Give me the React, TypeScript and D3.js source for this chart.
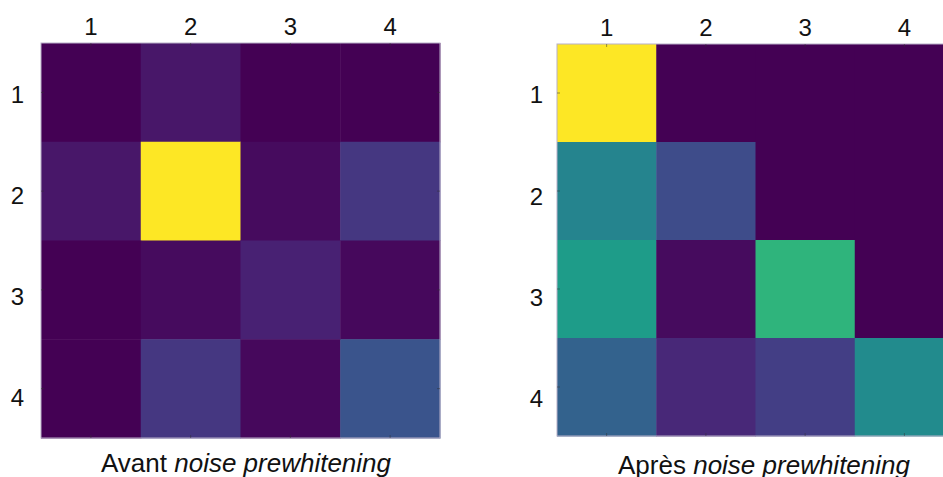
import React from "react";
import * as d3 from "d3";

const rowLabels = ["1", "2", "3", "4"];
const colLabels = ["1", "2", "3", "4"];

// Values on a 0..1 scale (viridis)
const avantValues: number[][] = [
  [0.0, 0.06, 0.0, 0.0],
  [0.06, 1.0, 0.03, 0.16],
  [0.0, 0.03, 0.09, 0.02],
  [0.0, 0.16, 0.02, 0.26],
];

const apresValues: number[][] = [
  [1.0, 0.0, 0.0, 0.0],
  [0.45, 0.23, 0.0, 0.0],
  [0.55, 0.03, 0.65, 0.0],
  [0.31, 0.11, 0.18, 0.48],
];

const captionAvant = ["Avant ", "noise prewhitening"];
const captionApres = ["Après ", "noise prewhitening"];

type PanelProps = {
  values: number[][];
  x0: number;
  x1: number;
  y0: number;
  y1: number;
  labelY0: number;
  labelY1: number;
  rowLabelX: number;
  caption: string[];
  captionX: number;
  captionY: number;
};

const color = d3.scaleSequential(d3.interpolateViridis).domain([0, 1]);

function Panel({ values, x0, x1, y0, y1, labelY0, labelY1, rowLabelX, caption, captionX, captionY }: PanelProps) {
  const x = d3.scaleBand<string>().domain(colLabels).range([x0, x1]);
  const y = d3.scaleBand<string>().domain(rowLabels).range([y0, y1]);
  const yLab = d3.scaleBand<string>().domain(rowLabels).range([labelY0, labelY1]);
  const tickLen = 3;
  return (
    <g>
      {values.map((row, i) =>
        row.map((v, j) => (
          <rect
            key={`${i}-${j}`}
            x={x(colLabels[j])}
            y={y(rowLabels[i])}
            width={x.bandwidth() + 0.5}
            height={y.bandwidth() + 0.5}
            fill={color(v)}
          />
        ))
      )}
      <rect x={x0} y={y0} width={x1 - x0} height={y1 - y0} fill="none" stroke="#b8b0c8" strokeWidth={1} />
      {colLabels.map((c) => {
        const cx = (x(c) as number) + x.bandwidth() / 2;
        return (
          <g key={"c" + c}>
            <line x1={cx} x2={cx} y1={y0} y2={y0 + tickLen} stroke="#333" strokeOpacity={0.5} />
            <line x1={cx} x2={cx} y1={y1} y2={y1 - tickLen} stroke="#333" strokeOpacity={0.5} />
            <text x={cx} y={y0 - 8} textAnchor="middle" fontSize={24} fill="#111">
              {c}
            </text>
          </g>
        );
      })}
      {rowLabels.map((r) => {
        const cy = (y(r) as number) + y.bandwidth() / 2;
        const ly = (yLab(r) as number) + yLab.bandwidth() / 2;
        return (
          <g key={"r" + r}>
            <line x1={x0} x2={x0 + tickLen} y1={cy} y2={cy} stroke="#333" strokeOpacity={0.5} />
            <line x1={x1} x2={x1 - tickLen} y1={cy} y2={cy} stroke="#333" strokeOpacity={0.5} />
            <text x={rowLabelX} y={ly} dy="0.36em" textAnchor="end" fontSize={24} fill="#111">
              {r}
            </text>
          </g>
        );
      })}
      <text x={captionX} y={captionY} textAnchor="middle" fontSize={26} fill="#111">
        {caption[0]}
        <tspan fontStyle="italic">{caption[1]}</tspan>
      </text>
    </g>
  );
}

export default function App() {
  return (
    <svg
      width={943}
      height={477}
      style={{ position: "absolute", left: 0, top: 0, background: "#fff" }}
      fontFamily="'Liberation Sans', Arial, sans-serif"
    >
      <Panel
        values={avantValues}
        x0={41}
        x1={440}
        y0={43}
        y1={438}
        labelY0={43.5}
        labelY1={447.5}
        rowLabelX={24}
        caption={captionAvant}
        captionX={246}
        captionY={472}
      />
      <Panel
        values={apresValues}
        x0={557}
        x1={954}
        y0={44}
        y1={436}
        labelY0={44}
        labelY1={449}
        rowLabelX={543}
        caption={captionApres}
        captionX={764}
        captionY={474}
      />
    </svg>
  );
}
